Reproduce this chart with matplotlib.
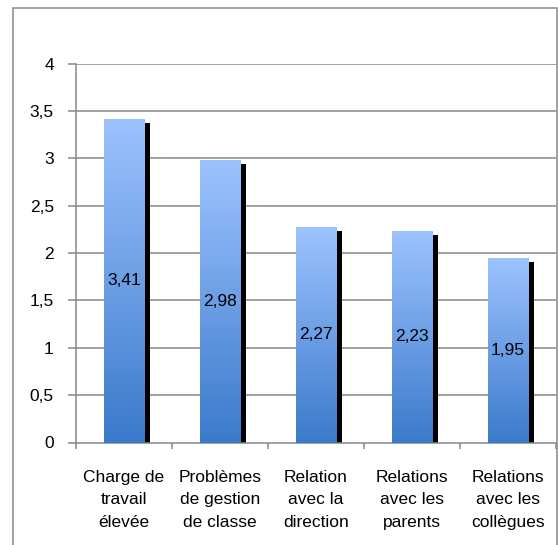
import matplotlib
matplotlib.use("Agg")
import matplotlib.pyplot as plt
import matplotlib.transforms as mtransforms
from matplotlib.colors import LinearSegmentedColormap
from matplotlib.patches import Rectangle
import numpy as np

categories = [
    "Charge de\ntravail\nélevée",
    "Problèmes\nde gestion\nde classe",
    "Relation\navec la\ndirection",
    "Relations\navec les\nparents",
    "Relations\navec les\ncollègues",
]
values = [3.41, 2.98, 2.27, 2.23, 1.95]
value_labels = ["3,41", "2,98", "2,27", "2,23", "1,95"]
y_ticks = [0, 0.5, 1, 1.5, 2, 2.5, 3, 3.5, 4]
y_tick_labels = ["0", "0,5", "1", "1,5", "2", "2,5", "3", "3,5", "4"]

plt.rcParams["font.family"] = ["Liberation Sans", "DejaVu Sans"]
FS = 12.5

W, H = 558, 545
fig = plt.figure(figsize=(W / 100, H / 100), dpi=100)
fig.patch.set_facecolor("white")

# outer frame of the chart area
frame = Rectangle((13 / W, -0.05), (557 - 13) / W, 1.05 - 8 / H,
                  transform=fig.transFigure, fill=False,
                  edgecolor="#888888", linewidth=1.1, zorder=0)
fig.patches.append(frame)

ax = fig.add_axes([76 / W, 1 - 442.5 / H, (556 - 76) / W, (442.5 - 63.5) / H])

x = np.arange(len(values))
ax.set_xlim(-0.5, len(values) - 0.5)
ax.set_ylim(0, 4)

grid_col = "#888888"
for yv in y_ticks[1:]:
    ax.axhline(yv, color=grid_col, linewidth=1.1, zorder=1)

bar_width = 0.42
bars = ax.bar(x, values, width=bar_width, color="none", edgecolor="none", zorder=3)

cmap = LinearSegmentedColormap.from_list("barfill", ["#3b7acb", "#9dc3ff"])
shadow_tr = ax.transData + mtransforms.ScaledTranslation(5.5 / 100, -4 / 100, fig.dpi_scale_trans)
grad = np.linspace(0, 1, 256).reshape(-1, 1)

for b, lab in zip(bars, value_labels):
    x0, w, h = b.get_x(), b.get_width(), b.get_height()
    shadow = Rectangle((x0, 0), w, h, facecolor="black", edgecolor="none",
                       transform=shadow_tr, zorder=2)
    ax.add_patch(shadow)
    im = ax.imshow(grad, cmap=cmap, origin="lower", aspect="auto",
                   extent=(x0, x0 + w, 0, h), zorder=3, interpolation="bilinear")
    im.set_clip_path(b)
    ax.text(x0 + w / 2, h / 2, lab, ha="center", va="center",
            fontsize=FS, color="black", zorder=4)

ax.set_xlim(-0.5, len(values) - 0.5)
ax.set_ylim(0, 4)

for s in ["top", "right"]:
    ax.spines[s].set_visible(False)
for s in ["left", "bottom"]:
    ax.spines[s].set_color(grid_col)
    ax.spines[s].set_linewidth(1.1)

ax.set_yticks(y_ticks)
ax.set_yticklabels(y_tick_labels, fontsize=FS)
ax.tick_params(axis="y", direction="out", length=6, width=1.1, color=grid_col, pad=10)

ax.set_xticks(x)
ax.set_xticklabels(categories, fontsize=FS, linespacing=1.6)
ax.set_xticks(np.arange(-0.5, len(values)), minor=True)
ax.tick_params(axis="x", which="major", length=0, pad=20)
ax.tick_params(axis="x", which="minor", direction="out", length=4, width=1.1, color=grid_col)

fig.savefig("out.png", dpi=100)
